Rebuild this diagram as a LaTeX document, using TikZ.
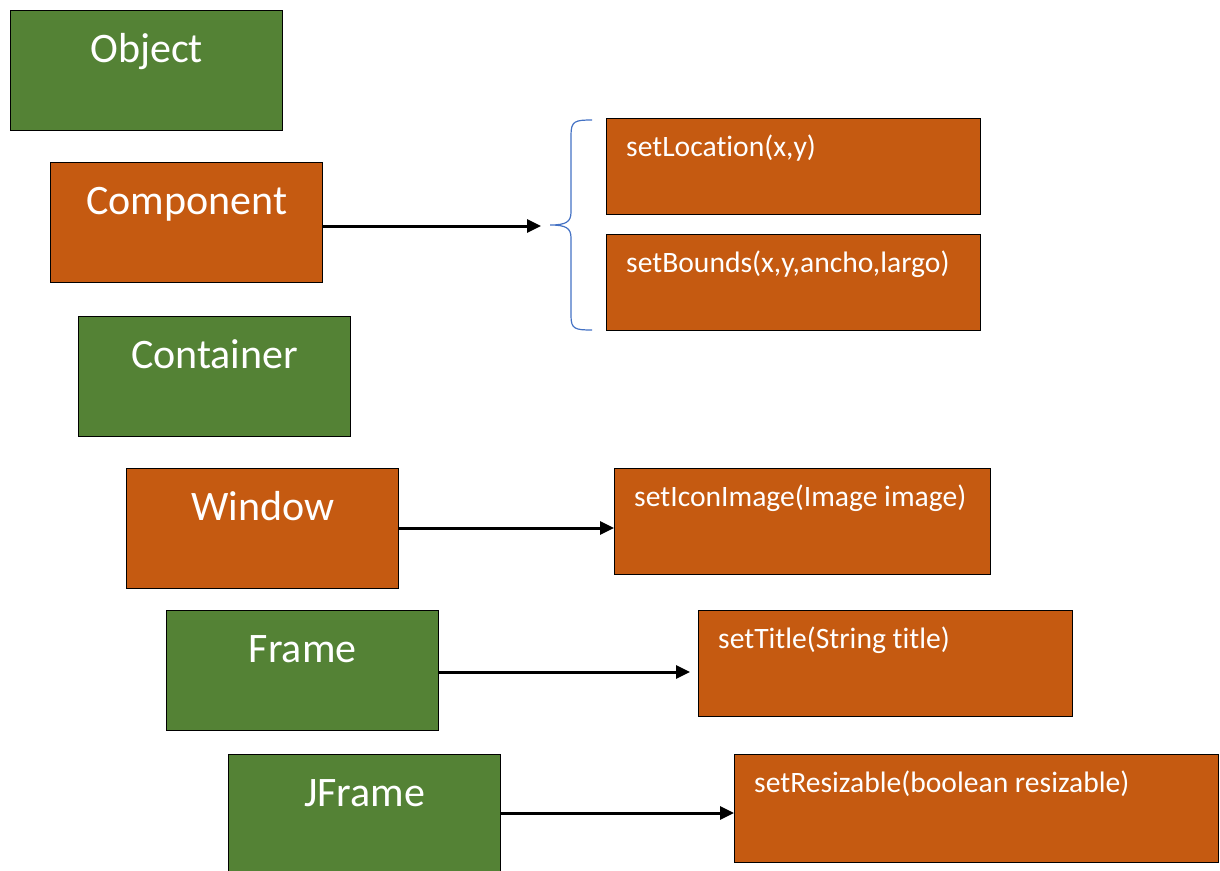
\documentclass[tikz,border=0pt]{standalone}
\usepackage{fontspec}
\setmainfont{Carlito}[Ligatures=NoCommon]
\usetikzlibrary{arrows.meta,positioning}
\definecolor{clsgreen}{HTML}{548235}
\definecolor{clsorange}{HTML}{C55A11}
\definecolor{braceblue}{HTML}{4472C4}
\tikzset{
  classbox/.style={draw=black, line width=1.3pt, anchor=north west, minimum width=272pt, minimum height=120pt, inner sep=0pt},
  greenbox/.style={classbox, fill=clsgreen},
  orangebox/.style={classbox, fill=clsorange},
  methodbox/.style={draw=black, line width=1.3pt, fill=clsorange, anchor=north west, inner sep=0pt},
  classname/.style={text=white, anchor=base, font=\fontsize{42}{50}\selectfont, inner sep=0pt},
  methodname/.style={text=white, anchor=base west, font=\fontsize{29.6}{35}\selectfont, inner sep=0pt},
  callarrow/.style={line width=3pt, -{Triangle[length=14pt,width=13pt]}},
}
\begin{document}
\begin{tikzpicture}[x=1pt,y=-1pt]
\useasboundingbox (0,0) rectangle (1220,870);
\clip (0,0) rectangle (1220,870);

% class hierarchy, stepped to the right
\node[greenbox]  (obj)  at (10,10)  {};
\node[orangebox] (comp) at (50,162) {};
\node[greenbox]  (cont) at (78,316) {};
\node[orangebox] (win)  at (126,468) {};
\node[greenbox]  (frm)  at (166,610) {};
\node[greenbox, minimum height=140pt] (jfrm) at (228,754) {};

\node[classname] (objt)  at ([yshift=-52pt]obj.north)  {Object};
\node[classname] (compt) at ([yshift=-52pt]comp.north) {Component};
\node[classname] (contt) at ([yshift=-52pt]cont.north) {Container};
\node[classname] (wint)  at ([yshift=-52pt]win.north)  {Window};
\node[classname] (frmt)  at ([yshift=-52pt]frm.north)  {Frame};
\node[classname] (jfrmt) at ([yshift=-52pt]jfrm.north) {JFrame};

% method boxes
\node[methodbox, minimum width=374pt, minimum height=96pt]  (loc)   at (606,118) {};
\node[methodbox, minimum width=374pt, minimum height=96pt]  (bnd)   at (606,234) {};
\node[methodbox, minimum width=376pt, minimum height=106pt] (icon)  at (614,468) {};
\node[methodbox, minimum width=374pt, minimum height=106pt] (title) at (698,610) {};
\node[methodbox, minimum width=484pt, minimum height=108pt] (resz)  at (734,754) {};

\node[methodname] (loct)   at ([xshift=20pt,yshift=-38pt]loc.north west)   {setLocation(x,y)};
\node[methodname] (bndt)   at ([xshift=20pt,yshift=-38pt]bnd.north west)   {setBounds(x,y,ancho,largo)};
\node[methodname] (icont)  at ([xshift=20pt,yshift=-38pt]icon.north west)  {setIconImage(Image image)};
\node[methodname] (titlet) at ([xshift=20pt,yshift=-38pt]title.north west) {setTitle(String title)};
\node[methodname] (reszt)  at ([xshift=20pt,yshift=-38pt]resz.north west)  {setResizable(boolean resizable)};

% brace grouping the two Component methods
\coordinate (bt) at (550,225);
\coordinate (btin) at (541,226);
\draw[braceblue, line width=1.2pt]
  (592,120) .. controls (575,120) and (571,121) .. (571,135)
  -- (571,212) .. controls (571,222) and (566,225) .. (bt)
  .. controls (566,225) and (571,228) .. (571,238)
  -- (571,316) .. controls (571,329) and (575,330) .. (592,330);

% call arrows
\draw[callarrow] (comp.east |- btin) -- (btin);
\draw[callarrow] (win.east |- 0,528) -- (icon.west |- 0,528);
\draw[callarrow] (frm.east |- 0,672) -- ([xshift=-8pt]title.west |- 0,672);
\draw[callarrow] (jfrm.east |- 0,813) -- (resz.west |- 0,813);
\end{tikzpicture}
\end{document}
